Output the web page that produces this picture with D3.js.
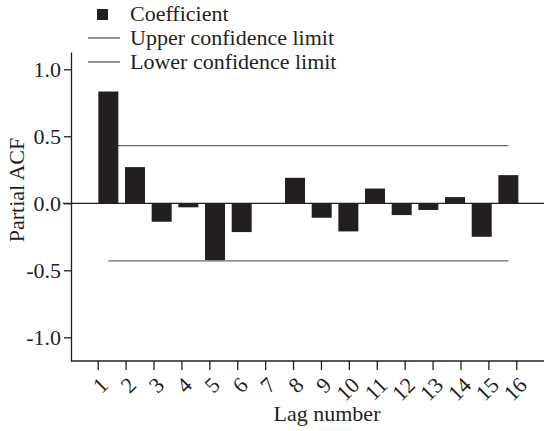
<!DOCTYPE html>
<html>
<head>
<meta charset="utf-8">
<script src="https://cdn.jsdelivr.net/npm/d3@7"></script>
<style>
  body { margin: 0; background: #fff; }
  svg text { font-family: "Liberation Serif", "Times New Roman", serif; fill: #231f20; }
</style>
</head>
<body>
<script>
// partial autocorrelation by lag
const lags = [1, 2, 3, 4, 5, 6, 7, 8, 9, 10, 11, 12, 13, 14, 15, 16];
const coefficients = [0.834, 0.27, -0.138, -0.03, -0.424, -0.215, 0, 0.19, -0.108, -0.21, 0.11, -0.088, -0.05, 0.046, -0.25, 0.21];
const upperLimit = 0.43;
const lowerLimit = -0.43;
const yTicks = [-1.0, -0.5, 0.0, 0.5, 1.0];
const legendLabels = ['Coefficient', 'Upper confidence limit', 'Lower confidence limit'];

const width = 544;
const height = 431;
const ink = '#231f20';
const limitColor = '#6b6767';
const fontSize = '22px';

const svg = d3.select('body')
    .append('svg')
    .attr('width', width)
    .attr('height', height);

const yScale = d3.scaleLinear()
    .domain([-1.177, 1.129])
    .range([361, 52]);

// bars sit on their own band scale, tick labels on a slightly wider point scale
const xBand = d3.scaleBand()
    .domain(lags)
    .range([95, 521.7])
    .paddingInner(0.25)
    .paddingOuter(0.125);

const xTick = d3.scalePoint()
    .domain(lags)
    .range([97.7, 516.3]);

// confidence limits, from the first bar centre to the last
const lineX0 = xBand(lags[0]) + xBand.bandwidth() / 2;
const lineX1 = xBand(lags[lags.length - 1]) + xBand.bandwidth() / 2;
[upperLimit, lowerLimit].forEach((v) => {
    svg.append('line')
        .attr('x1', lineX0)
        .attr('x2', lineX1)
        .attr('y1', yScale(v))
        .attr('y2', yScale(v))
        .attr('stroke', limitColor)
        .attr('stroke-width', 1.2);
});

// bars
svg.selectAll('rect.bar')
    .data(lags)
    .enter()
    .append('rect')
    .attr('class', 'bar')
    .attr('x', (d) => xBand(d))
    .attr('width', xBand.bandwidth())
    .attr('y', (d, i) => yScale(Math.max(0, coefficients[i])))
    .attr('height', (d, i) => Math.abs(yScale(coefficients[i]) - yScale(0)))
    .attr('fill', ink);

// zero line
svg.append('line')
    .attr('x1', 63)
    .attr('x2', width)
    .attr('y1', yScale(0))
    .attr('y2', yScale(0))
    .attr('stroke', ink)
    .attr('stroke-width', 1.2);

// y axis
const yAxis = d3.axisLeft(yScale)
    .tickValues(yTicks)
    .tickSize(7)
    .tickSizeOuter(0)
    .tickFormat((d) => d.toFixed(1));

const gy = svg.append('g')
    .attr('transform', 'translate(71, 0)')
    .call(yAxis);
gy.selectAll('text')
    .style('font-size', fontSize)
    .attr('x', -10);
gy.selectAll('line, path').attr('stroke', ink).attr('stroke-width', 1.3);

// x axis
svg.append('line')
    .attr('x1', 71)
    .attr('x2', width)
    .attr('y1', 361)
    .attr('y2', 361)
    .attr('stroke', ink)
    .attr('stroke-width', 1.3);

const xAxis = d3.axisBottom(xTick)
    .tickSize(9)
    .tickSizeOuter(0);

const gx = svg.append('g')
    .attr('transform', 'translate(0, 361)')
    .call(xAxis);
gx.select('.domain').remove();
gx.selectAll('line').attr('stroke', ink).attr('stroke-width', 1.3);
gx.selectAll('text')
    .style('font-size', fontSize)
    .attr('text-anchor', 'end')
    .attr('y', 0)
    .attr('dy', '0.35em')
    .attr('transform', 'translate(6, 20) rotate(-45)');

// axis titles
svg.append('text')
    .attr('x', 327)
    .attr('y', 421)
    .attr('text-anchor', 'middle')
    .style('font-size', fontSize)
    .text('Lag number');

svg.append('text')
    .attr('transform', 'translate(24, 190) rotate(-90)')
    .attr('text-anchor', 'middle')
    .style('font-size', fontSize)
    .text('Partial ACF');

// legend
const legend = svg.append('g');
legend.append('rect')
    .attr('x', 97)
    .attr('y', 9)
    .attr('width', 11)
    .attr('height', 11)
    .attr('fill', ink);
[38, 62].forEach((y) => {
    legend.append('line')
        .attr('x1', 88)
        .attr('x2', 120)
        .attr('y1', y)
        .attr('y2', y)
        .attr('stroke', ink)
        .attr('stroke-width', 1);
});
legend.selectAll('text.leg')
    .data(legendLabels)
    .enter()
    .append('text')
    .attr('class', 'leg')
    .attr('x', 130)
    .attr('y', (d, i) => 21 + i * 24)
    .style('font-size', fontSize)
    .text((d) => d);
</script>
</body>
</html>
